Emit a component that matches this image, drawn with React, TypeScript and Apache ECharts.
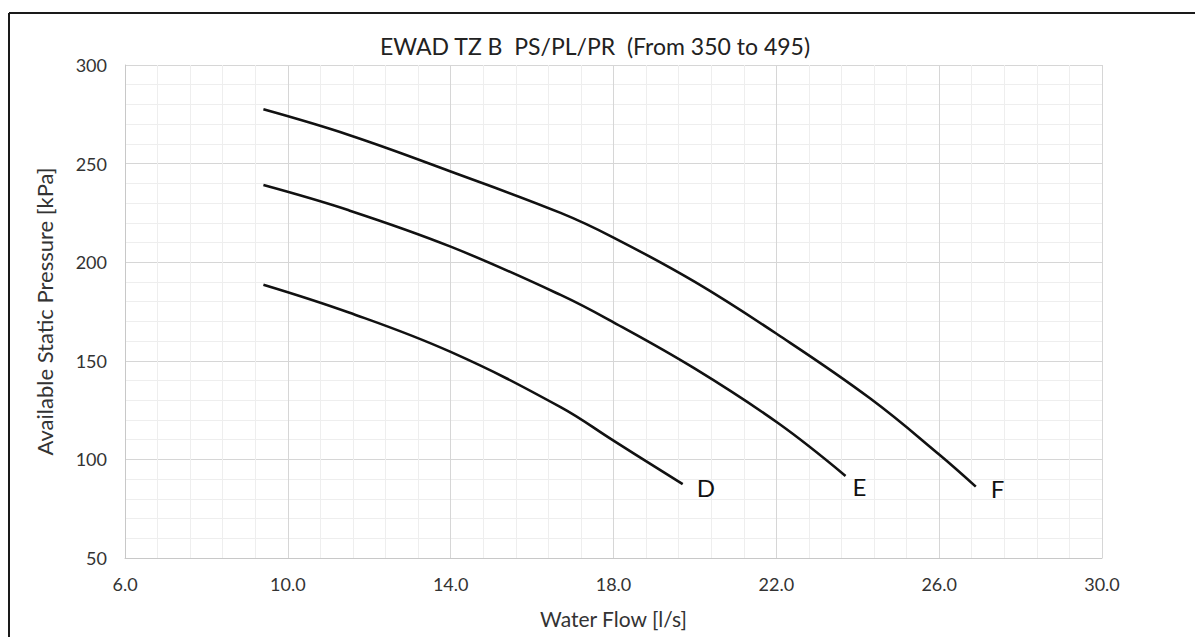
import React, { useEffect, useRef } from "react";
import * as echarts from "echarts";

const title = "EWAD TZ B  PS/PL/PR  (From 350 to 495)";
const xName = "Water Flow [l/s]";
const yName = "Available Static Pressure [kPa]";

const curveD: [number, number][] = [
  [9.4, 188.6], [11.5, 174.5], [14.0, 154.5], [16.7, 126.5], [18.0, 109.5],
  [19.7, 87.5],
];
const curveE: [number, number][] = [
  [9.4, 239.1], [11.5, 226.3], [14.0, 207.9], [16.7, 183.4], [18.0, 169.5],
  [20.0, 146], [22.05, 118.3], [23.7, 91.6],
];
const curveF: [number, number][] = [
  [9.4, 277.5], [11.5, 264.5], [14.0, 246], [16.7, 225], [18.0, 212.5],
  [20.0, 190], [22.05, 163.1], [24.3, 131], [26.0, 102.5], [26.9, 86.2],
];
const curveNames = ["D", "E", "F"];

const FONT = "Lato";

export default function App() {
  const ref = useRef<HTMLDivElement>(null);
  useEffect(() => {
    if (!ref.current) return;
    const chart = echarts.init(ref.current, null, { renderer: "svg" });
    const curves = [curveD, curveE, curveF];
    const labelCfg = [
      { distance: 14, offset: [0, 3] },
      { distance: 7, offset: [0, 11] },
      { distance: 15, offset: [0, 2] },
    ];
    chart.setOption({
      animation: false,
      backgroundColor: "#ffffff",
      textStyle: { fontFamily: FONT },
      title: {
        text: title,
        left: 590,
        top: 29,
        textAlign: "center",
        textStyle: { fontFamily: FONT, fontSize: 23, fontWeight: "normal", color: "#222222" },
      },
      grid: { left: 125, top: 65, right: 93, bottom: 79, containLabel: false },
      xAxis: {
        type: "value",
        min: 6,
        max: 30,
        interval: 4,
        name: xName,
        nameLocation: "middle",
        nameGap: 50,
        nameTextStyle: { fontFamily: FONT, fontSize: 21, color: "#333333" },
        axisLine: { show: true, lineStyle: { color: "#c8c8c8", width: 1 } },
        axisTick: { show: false },
        axisLabel: {
          fontFamily: FONT,
          fontSize: 18,
          color: "#333333",
          margin: 17,
          formatter: (v: number) => v.toFixed(1),
        },
        splitLine: { show: true, lineStyle: { color: "#d6d6d6", width: 1 } },
        minorTick: { show: false, splitNumber: 5 },
        minorSplitLine: { show: true, lineStyle: { color: "#eeeeee", width: 1 } },
      },
      yAxis: {
        type: "value",
        min: 50,
        max: 300,
        interval: 50,
        name: yName,
        nameLocation: "middle",
        nameGap: 70,
        nameTextStyle: { fontFamily: FONT, fontSize: 22, color: "#333333" },
        axisLine: { show: true, lineStyle: { color: "#c8c8c8", width: 1 } },
        axisTick: { show: false },
        axisLabel: { fontFamily: FONT, fontSize: 18, color: "#333333", margin: 18 },
        splitLine: { show: true, lineStyle: { color: "#d6d6d6", width: 1 } },
        minorTick: { show: false, splitNumber: 5 },
        minorSplitLine: { show: true, lineStyle: { color: "#eeeeee", width: 1 } },
      },
      series: curves.map((c, i) => ({
        type: "line",
        name: curveNames[i],
        data: c,
        smooth: 0.4,
        showSymbol: false,
        symbol: "none",
        lineStyle: { color: "#111111", width: 2.6 },
        endLabel: {
          show: true,
          formatter: curveNames[i],
          fontFamily: FONT,
          fontSize: 24,
          color: "#111111",
          distance: labelCfg[i].distance,
          offset: labelCfg[i].offset,
        },
      })),
      graphic: [
        { type: "line", shape: { x1: 9, y1: 13, x2: 1195, y2: 13 }, style: { stroke: "#1a1a1a", lineWidth: 2 } },
        { type: "line", shape: { x1: 9, y1: 13, x2: 9, y2: 637 }, style: { stroke: "#1a1a1a", lineWidth: 2 } },
      ],
    });
    return () => chart.dispose();
  }, []);
  return (
    <div
      ref={ref}
      style={{ position: "fixed", left: 0, top: 0, width: 1195, height: 637, background: "#fff" }}
    />
  );
}
